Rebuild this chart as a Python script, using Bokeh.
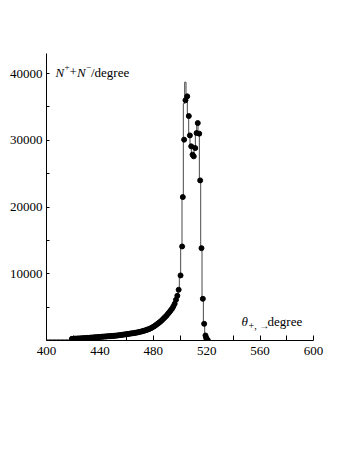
from bokeh.plotting import figure
from bokeh.models import Label, FixedTicker, NumeralTickFormatter, Range1d
from bokeh.embed import file_html
from bokeh.resources import INLINE

# ---- data ----
# measured points (theta, counts per degree)
tail_theta = list(range(419, 500))
tail_counts = [250, 260, 270, 280, 290, 300, 310, 320, 335, 350,
               365, 380, 395, 410, 425, 440, 455, 470, 485, 500,
               520, 540, 555, 570, 585, 600, 615, 630, 645, 660,
               675, 690, 710, 730, 750, 775, 800, 830, 860, 890,
               920, 950, 980, 1010, 1040, 1070, 1100, 1130, 1170, 1210,
               1250, 1300, 1350, 1400, 1460, 1520, 1590, 1660, 1740, 1830,
               1930, 2050, 2180, 2320, 2470, 2620, 2780, 2950, 3150, 3350,
               3550, 3750, 4000, 4250, 4500, 4750, 5100, 5500, 6100, 6700,
               7600]
peak_theta = [500.4, 501.6, 502.1, 503.1, 504.1, 505.4, 506.6, 507.4, 508.4,
              509.4, 510.3, 511.4, 512.4, 513.3, 514.4, 515.1, 516.1, 517.1,
              518.1, 519.1, 519.6, 520.0, 520.4, 520.8]
peak_counts = [9750, 14090, 21490, 30090, 36000, 36580, 33630, 30730, 29090,
               27840, 27590, 28830, 31080, 32580, 30990, 23990, 13840, 6250,
               2500, 750, 400, 200, 100, 50]

# histogram (bin centres, counts per degree)
hist_theta = list(range(400, 523))
hist_counts = ([120] * 19 + tail_counts[:81] +
               [9750, 14000, 21500, 35500, 38700, 36000, 33600, 30700, 29000,
                27800, 27600, 28800, 31000, 32600, 31000, 24000, 13800, 6200,
                2500, 750, 150, 0, 0])

x_ticks = [400, 440, 480, 520, 560, 600]
x_minor = [420, 460, 500, 540, 580]
y_ticks = [10000, 20000, 30000, 40000]
y_minor = [5000, 15000, 25000, 35000]

FONT = "'Liberation Serif', 'Times New Roman', Times, serif"

p = figure(width=346, height=448, output_backend="svg", toolbar_location=None,
           x_range=Range1d(400, 600), y_range=Range1d(0, 43000),
           min_border_left=46, min_border_right=33, min_border_top=53,
           min_border_bottom=108)
p.outline_line_color = None
p.grid.visible = False
p.background_fill_color = "white"
p.border_fill_color = "white"

p.step(hist_theta, hist_counts, mode="center", line_color="#4a4a4a", line_width=1)
p.scatter(tail_theta, tail_counts, size=5, color="black")
p.scatter(peak_theta, peak_counts, size=5, color="black")

for ax in (p.xaxis[0], p.yaxis[0]):
    ax.axis_line_color = "black"
    ax.axis_line_width = 1
    ax.major_tick_out = 0
    ax.minor_tick_out = 0
    ax.major_tick_line_color = "black"
    ax.minor_tick_line_color = "black"
    ax.major_label_text_font = FONT
    ax.major_label_text_font_size = "13px"
    ax.major_label_text_color = "black"

p.xaxis.ticker = FixedTicker(ticks=x_ticks, minor_ticks=x_minor)
p.xaxis.major_tick_in = 5
p.xaxis.minor_tick_in = 5
p.xaxis.major_label_standoff = 6

p.yaxis.ticker = FixedTicker(ticks=y_ticks, minor_ticks=y_minor)
p.yaxis.formatter = NumeralTickFormatter(format="0")
p.yaxis.major_tick_in = 3
p.yaxis.minor_tick_in = 3
p.yaxis.major_label_standoff = 4

def lab(x, y, text, dx=0, dy=0, size="13px", style="normal"):
    p.add_layout(Label(x=x, y=y, x_offset=dx, y_offset=dy, text=text,
                       text_font=FONT, text_font_size=size,
                       text_font_style=style, text_color="black",
                       text_baseline="alphabetic", text_align="left"))

# y label: N+ + N- / degree
yx, yy = 406.7, 40200
lab(yx, yy, "N", 0, 0, style="italic")
lab(yx, yy, "+", 9, 5, size="9px")
lab(yx, yy, "+", 14, 0)
lab(yx, yy, "N", 21.5, 0, style="italic")
lab(yx, yy, "\u2212", 30.5, 5, size="9px")
lab(yx, yy, "/degree", 35.5, 0)

# x label: theta_{+,->} degree
xx, xy = 546.1, 2775
lab(xx, xy, "\u03b8", 0, 0, style="italic")
lab(xx, xy, "+, \u2192", 7, -3.5, size="10px")
lab(xx, xy, "degree", 26, 0)

open("out.html", "w").write(file_html(p, INLINE))
